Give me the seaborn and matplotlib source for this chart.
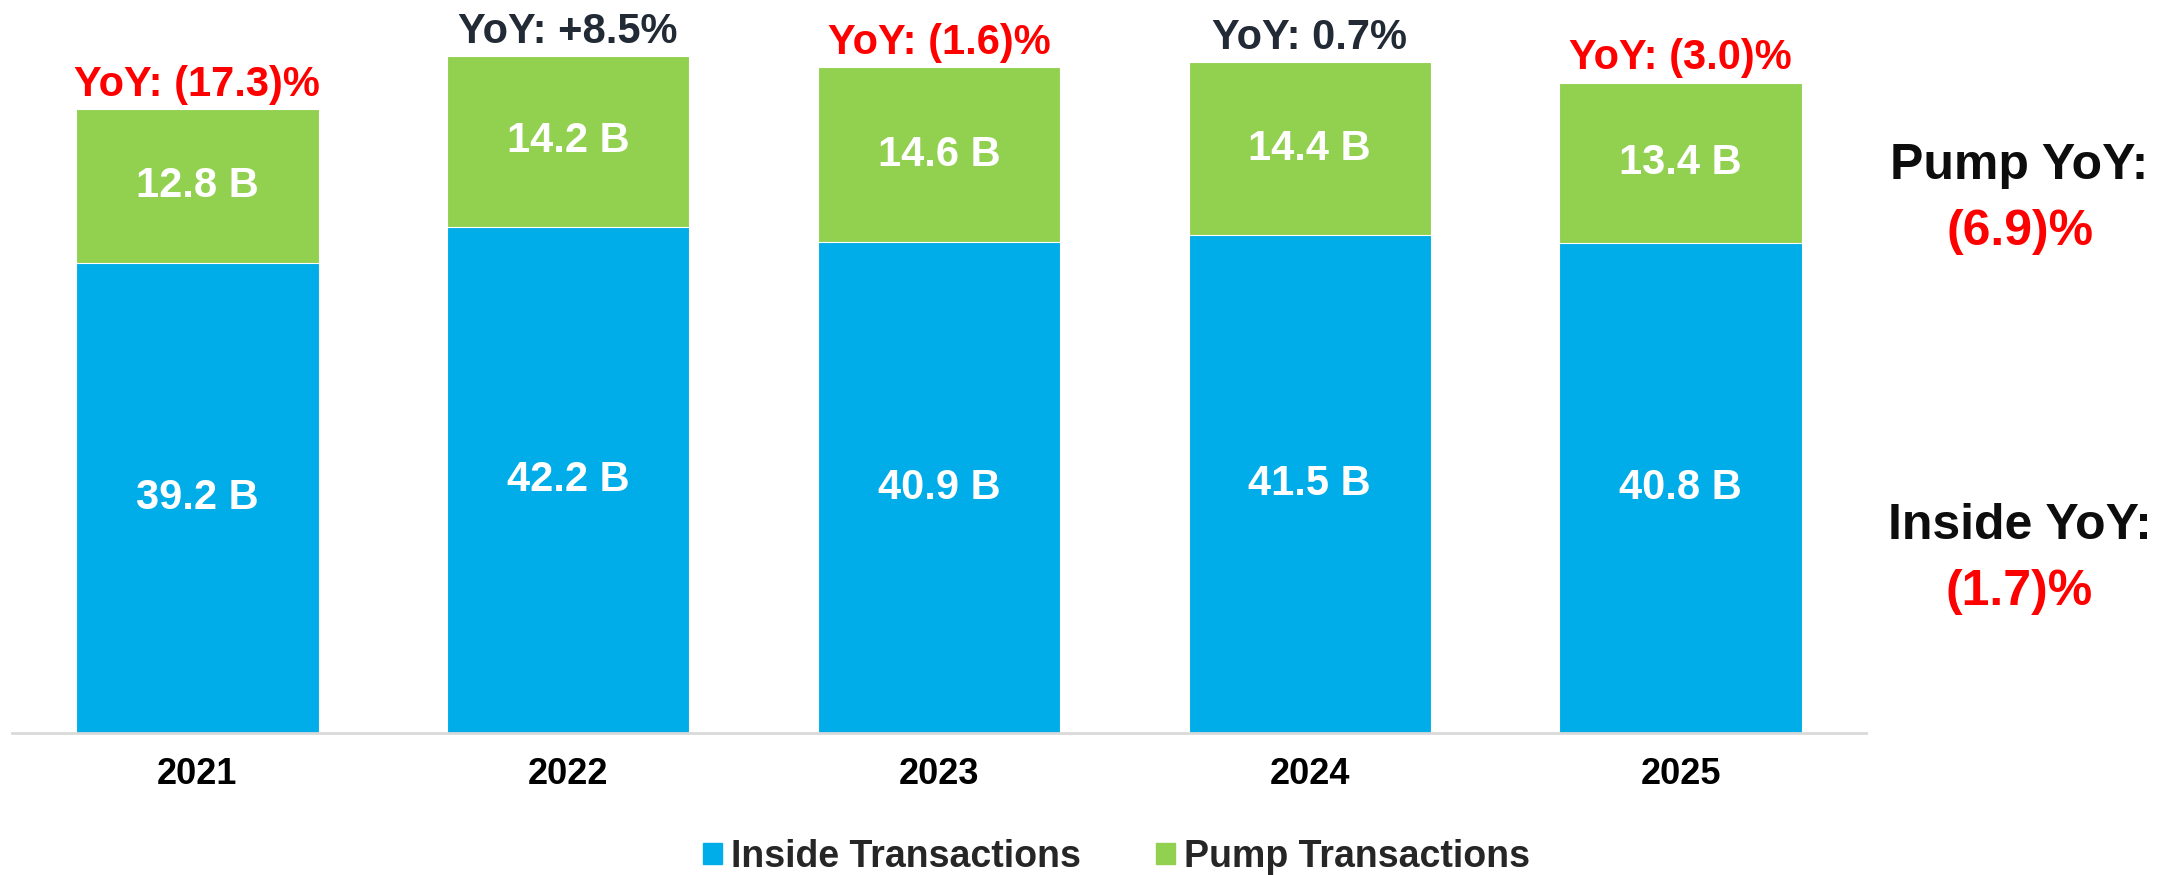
import numpy as np
import pandas as pd
import seaborn as sns
import matplotlib.pyplot as plt
from matplotlib.patches import Patch

# data
years = ["2021", "2022", "2023", "2024", "2025"]
inside = [39.2, 42.2, 40.9, 41.5, 40.8]
pump = [12.8, 14.2, 14.6, 14.4, 13.4]
yoy_labels = ["YoY: (17.3)%", "YoY: +8.5%", "YoY: (1.6)%", "YoY: 0.7%", "YoY: (3.0)%"]
yoy_negative = [True, False, True, False, True]

blue = "#00ADE9"
green = "#92D050"
red = "#FF0000"
dark = "#222A35"

sns.set_style("white")
plt.rcParams['font.family'] = ['Liberation Sans', 'DejaVu Sans']
plt.rcParams['font.weight'] = 'bold'

df = pd.DataFrame({"year": years, "inside": inside, "pump": pump})
df["total"] = df["inside"] + df["pump"]

fig = plt.figure(figsize=(21.81, 8.75), dpi=100)
ax = fig.add_axes([12 / 2181, 142 / 875, 1854 / 2181, 733 / 875])

# stacked bars: total first (green), inside on top (blue)
sns.barplot(data=df, x="year", y="total", color=green, saturation=1, width=0.654,
            edgecolor="white", linewidth=0.8, ax=ax)
sns.barplot(data=df, x="year", y="inside", color=blue, saturation=1, width=0.654,
            edgecolor="white", linewidth=0.8, ax=ax)

ax.set_ylim(0, 61.08)
ax.set_xlim(-0.5, 4.5)
ax.set_xlabel("")
ax.set_ylabel("")
ax.set_yticks([])
for s in ["top", "right", "left"]:
    ax.spines[s].set_visible(False)
ax.spines["bottom"].set_color("#D9D9D9")
ax.spines["bottom"].set_linewidth(2)
ax.tick_params(axis="x", length=0, pad=17, labelsize=26)
for lab in ax.get_xticklabels():
    lab.set_fontweight("bold")
    lab.set_color("black")

# segment labels and yoy labels
for i, row in df.iterrows():
    ax.text(i, row["inside"] / 2, f"{row['inside']:.1f} B", ha="center", va="center",
            color="white", fontsize=30, fontweight="bold")
    ax.text(i, row["inside"] + row["pump"] / 2, f"{row['pump']:.1f} B", ha="center",
            va="center", color="white", fontsize=30, fontweight="bold")
    ax.annotate(yoy_labels[i], xy=(i, row["total"]), xytext=(0, 9.5),
                textcoords="offset points", ha="center", va="baseline",
                color=red if yoy_negative[i] else dark, fontsize=30, fontweight="bold")

# right-hand summary
fig.text(0.926, 0.7954, "Pump YoY:", ha="center", va="baseline", fontsize=36,
         fontweight="bold", color="#0D0D0D")
fig.text(0.926, 0.720, "(6.9)%", ha="center", va="baseline", fontsize=36,
         fontweight="bold", color=red)
fig.text(0.926, 0.384, "Inside YoY:", ha="center", va="baseline", fontsize=36,
         fontweight="bold", color="#0D0D0D")
fig.text(0.926, 0.3086, "(1.7)%", ha="center", va="baseline", fontsize=36,
         fontweight="bold", color=red)

handles = [Patch(color=blue, label="Inside Transactions"),
           Patch(color=green, label="Pump Transactions")]
leg = fig.legend(handles=handles, loc="center", bbox_to_anchor=(0.512, 0.021), ncol=2,
                 frameon=False, fontsize=27, handlelength=0.5, handleheight=0.5,
                 handletextpad=0.25, columnspacing=2.0, borderpad=0)
for t in leg.get_texts():
    t.set_fontweight("bold")

fig.savefig("out.png", dpi=100)
